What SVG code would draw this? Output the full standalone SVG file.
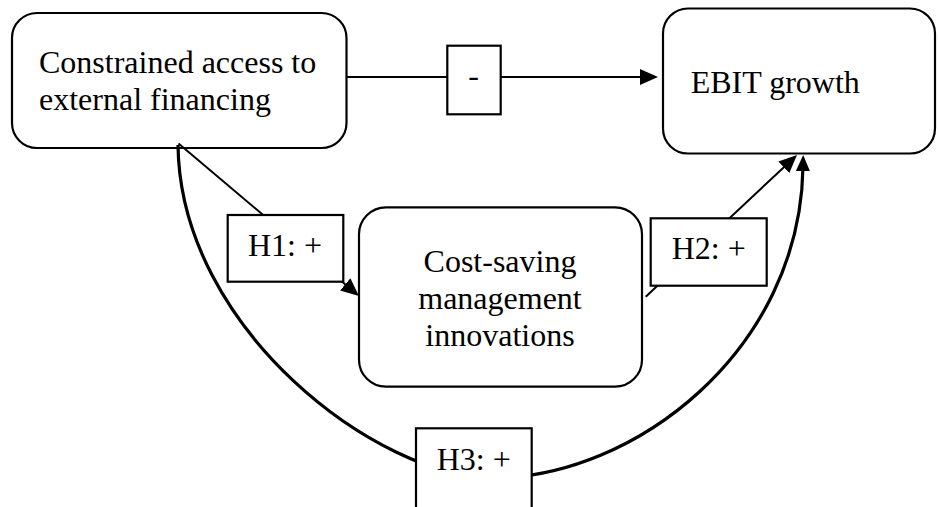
<svg xmlns="http://www.w3.org/2000/svg" width="938" height="507" viewBox="0 0 938 507">
<style>
.node{fill:#fff;stroke:#000;stroke-width:2.2}
.lbl{fill:#fff;stroke:#000;stroke-width:2.2}
.t{font-family:"Liberation Serif","Times New Roman",serif;font-size:32px;fill:#000}
.c{fill:none;stroke:#000;stroke-width:2}
.thick{fill:none;stroke:#000;stroke-width:3.2}
</style>
<defs>
<marker id="ah" markerUnits="userSpaceOnUse" viewBox="0 0 18 16" markerWidth="18" markerHeight="16" refX="6" refY="8" orient="auto">
<path d="M0,0 L18,8 L0,16 z" fill="#000"/>
</marker>
<marker id="ah2" markerUnits="userSpaceOnUse" viewBox="0 0 16 14" markerWidth="16" markerHeight="14" refX="4" refY="7" orient="auto">
<path d="M0,0 L16,7 L0,14 z" fill="#000"/>
</marker>
</defs>
<g id="node-constrained">
<rect class="node" x="12" y="13" width="334.5" height="135" rx="25" ry="25"/>
<text class="t" x="39" y="73">Constrained access to</text>
<text class="t" x="39" y="110">external financing</text>
</g>
<g id="node-ebit">
<rect class="node" x="663" y="8.5" width="272" height="145" rx="25" ry="25"/>
<text class="t" x="690.7" y="92.7">EBIT growth</text>
</g>
<g id="node-costsaving">
<rect class="node" x="359" y="207.3" width="283" height="179.4" rx="27" ry="27"/>
<text class="t" x="500" y="272" text-anchor="middle">Cost-saving</text>
<text class="t" x="500" y="309" text-anchor="middle">management</text>
<text class="t" x="500" y="346" text-anchor="middle">innovations</text>
</g>
<g id="connectors">
<line class="c" x1="346.5" y1="77" x2="646" y2="77" marker-end="url(#ah)"/>
<line class="c" x1="178.5" y1="143.5" x2="349.8" y2="288.2" marker-end="url(#ah)"/>
<line class="c" x1="645.7" y1="296.7" x2="788.2" y2="163.2" marker-end="url(#ah)"/>
<path class="thick" d="M178,145 C180,330 379,478 493,478 C634,478 800,351 803,167" marker-end="url(#ah2)"/>
</g>
<g id="labels">
<g id="label-minus">
<rect class="lbl" x="447.3" y="45.7" width="53.4" height="68.6"/>
<text class="t" x="473.5" y="86" text-anchor="middle">-</text>
</g>
<g id="label-h1">
<rect class="lbl" x="227.7" y="215" width="115.6" height="66.7"/>
<text class="t" x="248" y="256">H1: +</text>
</g>
<g id="label-h2">
<rect class="lbl" x="650.7" y="218.3" width="116" height="67.4"/>
<text class="t" x="671.7" y="259.3">H2: +</text>
</g>
<g id="label-h3">
<rect class="lbl" x="416" y="428.3" width="115.7" height="82"/>
<text class="t" x="436.7" y="470">H3: +</text>
</g>
</g>
</svg>
